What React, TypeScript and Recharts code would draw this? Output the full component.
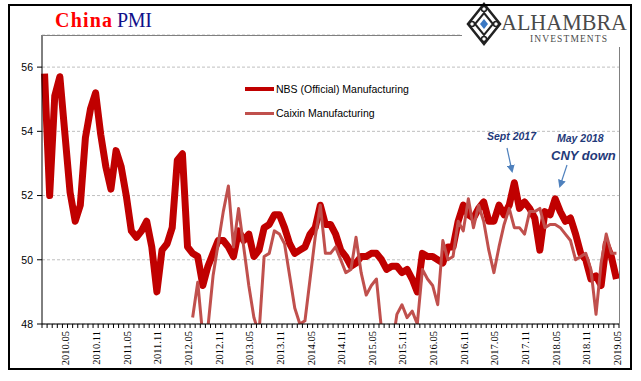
import { CartesianGrid, Legend, Line, LineChart, XAxis, YAxis } from 'recharts'

// monthly categories, 2010.01 .. 2019.05
const FIRST_YEAR = 2010
const MONTH_COUNT = 113
const months = Array.from(
  { length: MONTH_COUNT },
  (_, i) => `${FIRST_YEAR + Math.floor(i / 12)}.${String((i % 12) + 1).padStart(2, '0')}`,
)

// NBS (official) manufacturing PMI, from 2010.01
const nbs = [
  55.8, 52.0, 55.1, 55.7, 53.9, 52.1, 51.2, 51.7, 53.8, 54.7, 55.2, 53.9,
  52.9, 52.2, 53.4, 52.9, 52.0, 50.9, 50.7, 50.9, 51.2, 50.4, 49.0, 50.3,
  50.5, 51.0, 53.1, 53.3, 50.4, 50.2, 50.1, 49.2, 49.8, 50.2, 50.6, 50.6,
  50.4, 50.1, 50.9, 50.6, 50.8, 50.1, 50.3, 51.0, 51.1, 51.4, 51.4, 51.0,
  50.5, 50.2, 50.3, 50.4, 50.8, 51.0, 51.7, 51.1, 51.1, 50.8, 50.3, 50.1,
  49.8, 49.9, 50.1, 50.1, 50.2, 50.2, 50.0, 49.7, 49.8, 49.8, 49.6, 49.7,
  49.4, 49.0, 50.2, 50.1, 50.1, 50.0, 49.9, 50.4, 50.4, 51.2, 51.7, 51.4,
  51.3, 51.6, 51.8, 51.2, 51.2, 51.7, 51.4, 51.7, 52.4, 51.6, 51.8, 51.6,
  51.3, 50.3, 51.5, 51.4, 51.9, 51.5, 51.2, 51.3, 50.8, 50.2, 50.0, 49.4,
  49.5, 49.2, 50.5, 50.1, 49.4,
]

// Caixin manufacturing PMI, from 2012.06
const CAIXIN_START = '2012.06'
const caixin = [
  48.2, 49.3, 47.6, 47.9, 49.5, 50.5, 51.5,
  52.3, 50.4, 51.6, 50.4, 49.2, 48.2, 47.7, 50.1, 50.2, 50.9, 50.8, 50.5,
  49.5, 48.5, 48.0, 48.1, 49.4, 50.7, 51.7, 50.2, 50.2, 50.4, 50.0, 49.6,
  49.7, 50.7, 49.6, 48.9, 49.2, 49.4, 47.8, 47.3, 47.2, 48.3, 48.6, 48.2,
  48.4, 48.0, 49.7, 49.4, 49.2, 48.6, 50.6, 50.0, 50.1, 51.2, 50.9, 51.9,
  51.0, 51.7, 51.2, 50.3, 49.6, 50.4, 51.1, 51.6, 51.0, 51.0, 50.8, 51.5,
  51.5, 51.6, 51.0, 51.1, 51.1, 51.0, 50.8, 50.6, 50.0, 50.1, 50.2, 49.7,
  48.3, 49.9, 50.8, 50.2, 50.2,
]

const yTicks = [48, 50, 52, 54, 56]
const labelMonths = ['05', '11']

const SERIES = [
  { key: 'nbs', name: 'NBS (Official) Manufacturing', color: '#C00000', width: 7, legendWidth: 4 },
  { key: 'caixin', name: 'Caixin Manufacturing', color: '#C0504D', width: 3, legendWidth: 3 },
]

const caixinOffset = months.indexOf(CAIXIN_START)
const data = months.map((month, i) => ({
  month,
  nbs: nbs[i],
  caixin: i >= caixinOffset ? caixin[i - caixinOffset] : null,
}))

const PLOT_LEFT = 42
const PLOT_RIGHT = 619
const PLOT_TOP = 35
const PLOT_BOTTOM = 324
const HALF_STEP = (PLOT_RIGHT - PLOT_LEFT) / MONTH_COUNT / 2

function MonthTick(props: any) {
  const { x, y, payload, index } = props
  const label: string = payload.value
  const show = labelMonths.includes(label.slice(5))
  return (
    <g>
      <line x1={x - HALF_STEP} x2={x - HALF_STEP} y1={y} y2={y + 4} stroke="#000" />
      {index === MONTH_COUNT - 1 && <line x1={x + HALF_STEP} x2={x + HALF_STEP} y1={y} y2={y + 4} stroke="#000" />}
      {show && (
        <text
          transform={`translate(${x + 1},${y + 7}) rotate(-90)`}
          textAnchor="end"
          dominantBaseline="central"
          fontSize={10.5}
          fontFamily="Liberation Serif"
          fill="#000"
        >
          {label}
        </text>
      )}
    </g>
  )
}

function LegendBox() {
  return (
    <div style={{ fontFamily: 'Liberation Sans', fontSize: 10.5, color: '#000' }}>
      {SERIES.map((s) => (
        <div key={s.key} style={{ display: 'flex', alignItems: 'center', height: 24 }}>
          <div style={{ width: 29, height: s.legendWidth, background: s.color, marginRight: 2 }} />
          <span>{s.name}</span>
        </div>
      ))}
    </div>
  )
}

function Logo() {
  const cx = 484
  const cy = 24
  return (
    <g>
      <rect x={462} y={6} width={167} height={41} fill="#fff" />
      <path d={`M${cx} ${cy - 20} L${cx + 16} ${cy} L${cx} ${cy + 20} L${cx - 16} ${cy} Z`} fill="none" stroke="#222" strokeWidth={2.5} />
      <path d={`M${cx} ${cy - 11} L${cx + 9} ${cy} L${cx} ${cy + 11} L${cx - 9} ${cy} Z`} fill="none" stroke="#222" strokeWidth={2} />
      <circle cx={cx} cy={cy - 15} r={2.5} fill="none" stroke="#222" strokeWidth={1.5} />
      <circle cx={cx} cy={cy + 15} r={2.5} fill="none" stroke="#222" strokeWidth={1.5} />
      <circle cx={cx - 12} cy={cy} r={2.5} fill="none" stroke="#222" strokeWidth={1.5} />
      <circle cx={cx + 12} cy={cy} r={2.5} fill="none" stroke="#222" strokeWidth={1.5} />
      <path d={`M${cx} ${cy - 5} L${cx + 4} ${cy} L${cx} ${cy + 5} L${cx - 4} ${cy} Z`} fill="#3A78C3" />
      <text x={501} y={30} fontFamily="Liberation Serif" fontSize={24} fill="#4a4a4a" textLength={126} lengthAdjust="spacingAndGlyphs">
        ALHAMBRA
      </text>
      <text x={530} y={42} fontFamily="Liberation Serif" fontSize={9.5} fill="#4a4a4a" textLength={77} lengthAdjust="spacing">
        INVESTMENTS
      </text>
    </g>
  )
}

function Overlay() {
  const navy = '#1F3A7A'
  const arrow = '#4F81BD'
  return (
    <svg width={641} height={381} style={{ position: 'absolute', left: 0, top: 0, pointerEvents: 'none' }}>
      <defs>
        <marker id="head" markerWidth="8" markerHeight="8" refX="6" refY="4" orient="auto" markerUnits="userSpaceOnUse">
          <path d="M0 0 L8 4 L0 8 Z" fill={arrow} />
        </marker>
      </defs>
      <line x1={PLOT_LEFT} x2={PLOT_RIGHT} y1={PLOT_TOP + 0.5} y2={PLOT_TOP + 0.5} stroke="#808080" />
      <line x1={PLOT_RIGHT + 0.5} x2={PLOT_RIGHT + 0.5} y1={PLOT_TOP} y2={PLOT_BOTTOM} stroke="#808080" />
      <Logo />
      <text x={55} y={27} fontFamily="Liberation Serif" fontSize={20} fontWeight="bold" fill="#FF0000" textLength={57}>
        China
      </text>
      <text x={117} y={27} fontFamily="Liberation Serif" fontSize={20} fill="#10108A" textLength={35}>
        PMI
      </text>
      <g fontFamily="Liberation Sans" fontStyle="italic" fontWeight="bold" fill={navy}>
        <text x={487} y={140} fontSize={10.5}>Sept 2017</text>
        <text x={557} y={142} fontSize={10.5}>May 2018</text>
        <text x={551} y={160} fontSize={13}>CNY down</text>
      </g>
      <line x1={507} y1={148} x2={512} y2={171} stroke={arrow} strokeWidth={1.2} markerEnd="url(#head)" />
      <line x1={567} y1={165} x2={560} y2={186} stroke={arrow} strokeWidth={1.2} markerEnd="url(#head)" />
      <rect x={9} y={5} width={622} height={364} fill="none" stroke="#000" strokeWidth={2} />
    </svg>
  )
}

export default function App() {
  return (
    <div style={{ position: 'absolute', left: 0, top: 0, width: 641, height: 381, background: '#fff' }}>
      <LineChart
        width={641}
        height={381}
        data={data}
        margin={{ top: PLOT_TOP, right: 641 - PLOT_RIGHT, bottom: 12, left: 12 }}
      >
        <CartesianGrid vertical={false} stroke="#BFBFBF" strokeDasharray="3 2" />
        <XAxis
          dataKey="month"
          interval={0}
          height={45}
          tickLine={false}
          tickSize={0}
          tickMargin={0}
          axisLine={{ stroke: '#000' }}
          padding={{ left: HALF_STEP, right: HALF_STEP }}
          tick={<MonthTick />}
        />
        <YAxis
          width={30}
          domain={[48, 57]}
          ticks={yTicks}
          allowDataOverflow
          axisLine={{ stroke: '#000' }}
          tickLine={{ stroke: '#000' }}
          tickSize={5}
          tickMargin={4}
          tick={{ fontSize: 10.5, fill: '#000', fontFamily: 'Liberation Sans' }}
        />
        <Legend
          layout="vertical"
          align="center"
          verticalAlign="middle"
          content={<LegendBox />}
          wrapperStyle={{ left: 245, top: 77, width: 'auto', height: 'auto' }}
        />
        {SERIES.map((s) => (
          <Line
            key={s.key}
            dataKey={s.key}
            name={s.name}
            stroke={s.color}
            strokeWidth={s.width}
            strokeLinejoin="round"
            dot={false}
            activeDot={false}
            isAnimationActive={false}
          />
        ))}
      </LineChart>
      <Overlay />
    </div>
  )
}
